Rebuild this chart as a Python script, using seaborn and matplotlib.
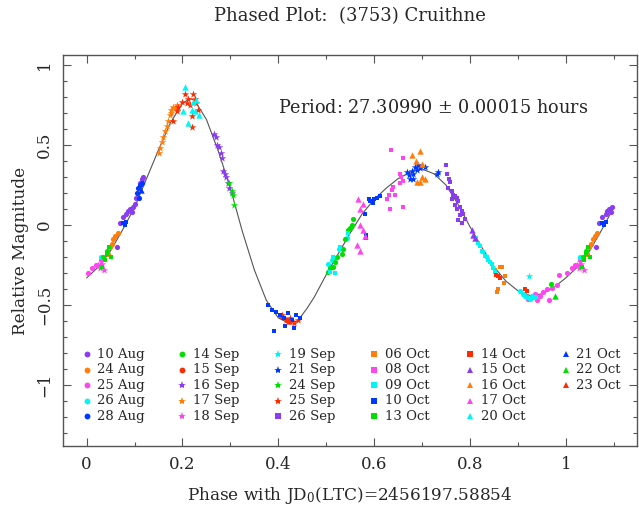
import numpy as np
import pandas as pd
import matplotlib
matplotlib.use("Agg")
import matplotlib.pyplot as plt
import seaborn as sns

# ---------------- data ----------------
sessions = ["10 Aug", "24 Aug", "25 Aug", "26 Aug", "28 Aug",
            "14 Sep", "15 Sep", "16 Sep", "17 Sep", "18 Sep",
            "19 Sep", "21 Sep", "24 Sep", "25 Sep", "26 Sep",
            "06 Oct", "08 Oct", "09 Oct", "10 Oct", "13 Oct",
            "14 Oct", "15 Oct", "16 Oct", "17 Oct", "20 Oct",
            "21 Oct", "22 Oct", "23 Oct"]

phase = {
    "10 Aug": [0.064, 0.07, 0.076, 0.083, 0.087, 0.09, 0.094, 0.097, 0.101, 0.104, 0.111, 0.115, 0.118],
    "24 Aug": [0.044, 0.048, 0.052, 0.056, 0.06, 0.065],
    "25 Aug": [0.912, 0.922, 0.929, 0.936, 0.939, 0.946, 0.953, 0.96, 0.964, 0.971, 0.981, 0.985,
               0.003, 0.012, 0.02, 0.03],
    "26 Aug": [0.504, 0.513, 0.526, 0.543, 0.905, 0.91, 0.915, 0.92, 0.925, 0.93, 0.935, 0.03],
    "28 Aug": [0.106, 0.108, 0.109, 0.111, 0.115],
    "14 Sep": [0.504, 0.508, 0.515, 0.518, 0.522, 0.532, 0.536, 0.539, 0.546, 0.55, 0.553, 0.555,
               0.97, 0.035, 0.042],
    "15 Sep": [0.405, 0.418],
    "16 Sep": [0.266, 0.27, 0.273, 0.277, 0.28, 0.282, 0.285, 0.288, 0.291, 0.294, 0.298, 0.303],
    "17 Sep": [0.15, 0.153, 0.157, 0.16, 0.163, 0.167, 0.17, 0.174, 0.177, 0.177, 0.181, 0.185, 0.188],
    "18 Sep": [0.023, 0.027, 0.031, 0.037],
    "19 Sep": [0.924],
    "21 Sep": [0.669, 0.673, 0.678, 0.682, 0.675, 0.685, 0.689, 0.692, 0.696, 0.682, 0.706, 0.731, 0.734],
    "24 Sep": [0.298, 0.303, 0.306, 0.307],
    "25 Sep": [0.198, 0.205, 0.209, 0.212, 0.216, 0.219, 0.219, 0.222, 0.226, 0.229, 0.233, 0.188,
               0.181, 0.191, 0.408, 0.416, 0.424, 0.433, 0.441],
    "26 Sep": [0.75, 0.752, 0.757, 0.758, 0.755, 0.762, 0.765, 0.769, 0.772, 0.762, 0.776, 0.769,
               0.779, 0.772, 0.783, 0.779, 0.786, 0.776, 0.79, 0.783],
    "06 Oct": [0.852, 0.863, 0.866, 0.873, 0.87, 0.859, 0.857],
    "08 Oct": [0.635, 0.661, 0.654, 0.657, 0.653, 0.66, 0.64, 0.637, 0.63, 0.644, 0.633, 0.66, 0.626],
    "09 Oct": [0.813, 0.816, 0.82, 0.825, 0.828, 0.832, 0.835, 0.838, 0.842, 0.846, 0.849, 0.852,
               0.515, 0.529, 0.546, 0.508, 0.518],
    "10 Oct": [0.379, 0.387, 0.395, 0.403, 0.412, 0.42, 0.428, 0.437, 0.445, 0.391, 0.414, 0.433,
               0.59, 0.592, 0.599, 0.607, 0.612, 0.598, 0.584, 0.583, 0.581,
               0.076, 0.08, 0.083],
    "13 Oct": [0.033, 0.038, 0.043, 0.047, 0.05],
    "14 Oct": [0.854, 0.859, 0.862, 0.915, 0.92],
    "15 Oct": [0.804, 0.807, 0.81],
    "16 Oct": [0.696, 0.678, 0.687, 0.699, 0.706, 0.689, 0.696, 0.699],
    "17 Oct": [0.567, 0.571, 0.577, 0.564, 0.571, 0.577, 0.581, 0.571],
    "20 Oct": [0.205, 0.202, 0.212, 0.219, 0.222, 0.229, 0.235, 0.226],
    "21 Oct": [0.113],
    "22 Oct": [0.978],
    "23 Oct": [0.422],
}
mag = {
    "10 Aug": [-0.14, 0.01, 0.05, 0.07, 0.09, 0.1, 0.08, 0.11, 0.13, 0.17, 0.26, 0.29, 0.3],
    "24 Aug": [-0.18, -0.14, -0.12, -0.09, -0.07, -0.05],
    "25 Aug": [-0.43, -0.46, -0.45, -0.43, -0.47, -0.44, -0.42, -0.4, -0.47, -0.39, -0.375, -0.31,
               -0.3, -0.27, -0.25, -0.22],
    "26 Aug": [-0.24, -0.22, -0.15, -0.08, -0.41, -0.43, -0.44, -0.45, -0.46, -0.44, -0.45, -0.2],
    "28 Aug": [0.2, 0.23, 0.17, 0.25, 0.26],
    "14 Sep": [-0.29, -0.27, -0.26, -0.23, -0.2, -0.18, -0.15, -0.09, -0.03, -0.02, 0.0, 0.04,
               -0.37, -0.2, -0.16],
    "15 Sep": [-0.57, -0.59],
    "16 Sep": [0.57, 0.55, 0.5, 0.49, 0.45, 0.42, 0.34, 0.32, 0.3, 0.26, 0.23, 0.2],
    "17 Sep": [0.45, 0.48, 0.52, 0.55, 0.59, 0.62, 0.65, 0.69, 0.72, 0.7, 0.74, 0.73, 0.75],
    "18 Sep": [-0.25, -0.27, -0.24, -0.28],
    "19 Sep": [-0.32],
    "21 Sep": [0.33, 0.31, 0.34, 0.32, 0.285, 0.365, 0.345, 0.375, 0.355, 0.29, 0.36, 0.32, 0.33],
    "24 Sep": [0.26, 0.21, 0.19, 0.125],
    "25 Sep": [0.77, 0.82, 0.76, 0.79, 0.75, 0.68, 0.61, 0.82, 0.79, 0.76, 0.72, 0.71,
               0.65, 0.74, -0.56, -0.59, -0.58, -0.61, -0.59],
    "26 Sep": [0.375, 0.32, 0.29, 0.27, 0.23, 0.21, 0.19, 0.18, 0.17, 0.16, 0.15, 0.125,
               0.115, 0.1, 0.085, 0.06, 0.07, 0.03, 0.04, 0.01],
    "06 Oct": [-0.28, -0.26, -0.26, -0.32, -0.36, -0.4, -0.42],
    "08 Oct": [0.47, 0.42, 0.32, 0.3, 0.26, 0.275, 0.24, 0.22, 0.19, 0.19, 0.1, 0.11, 0.16],
    "09 Oct": [-0.08, -0.11, -0.13, -0.16, -0.17, -0.19, -0.2, -0.22, -0.23, -0.24, -0.27, -0.29,
               -0.2, -0.135, -0.05, -0.29, -0.3],
    "10 Oct": [-0.5, -0.53, -0.54, -0.56, -0.58, -0.55, -0.59, -0.56, -0.58, -0.66, -0.63, -0.64,
               0.16, 0.15, 0.16, 0.167, 0.18, 0.135, -0.06, -0.08, 0.07,
               0.01, 0.0, 0.02],
    "13 Oct": [-0.26, -0.22, -0.18, -0.14, -0.2],
    "14 Oct": [-0.31, -0.32, -0.33, -0.4, -0.41],
    "15 Oct": [-0.03, -0.06, -0.08],
    "16 Oct": [0.46, 0.44, 0.4, 0.38, 0.29, 0.27, 0.27, 0.3],
    "17 Oct": [0.16, 0.1, 0.13, -0.125, -0.16, -0.03, -0.07, 0.0],
    "20 Oct": [0.86, 0.71, 0.64, 0.72, 0.77, 0.78, 0.69, 0.71],
    "21 Oct": [0.22],
    "22 Oct": [-0.44],
    "23 Oct": [-0.6],
}

# Fourier fit curve
curve_phase = [0.0, 0.025, 0.05, 0.075, 0.1, 0.125, 0.15, 0.175, 0.2, 0.215, 0.225, 0.25,
               0.275, 0.3, 0.325, 0.35, 0.375, 0.4, 0.42, 0.44, 0.46, 0.475, 0.5, 0.525,
               0.55, 0.575, 0.6, 0.625, 0.65, 0.675, 0.7, 0.725, 0.75, 0.775, 0.8, 0.825,
               0.85, 0.875, 0.9, 0.925, 0.95, 0.975, 1.0, 1.025, 1.05, 1.075, 1.1]
curve_mag = [-0.33, -0.26, -0.16, -0.03, 0.11, 0.29, 0.47, 0.64, 0.76, 0.79, 0.78, 0.66,
             0.46, 0.23, -0.04, -0.28, -0.47, -0.58, -0.61, -0.60, -0.52, -0.45, -0.31, -0.18,
             -0.05, 0.07, 0.16, 0.23, 0.29, 0.33, 0.35, 0.32, 0.25, 0.13, -0.01, -0.14,
             -0.26, -0.35, -0.41, -0.44, -0.43, -0.39, -0.33, -0.26, -0.16, -0.03, 0.11]

title = "Phased Plot:  (3753) Cruithne"
period_text = "Period: 27.30990 $\\pm$ 0.00015 hours"
xlabel = "Phase with JD$_0$(LTC)=2456197.58854"
ylabel = "Relative Magnitude"
xtick_vals = [0, 0.2, 0.4, 0.6, 0.8, 1.0]
xtick_labels = ["0", "0.2", "0.4", "0.6", "0.8", "1"]
ytick_vals = [-1, -0.5, 0, 0.5, 1]
ytick_labels = ["\u22121", "\u22120.5", "0", "0.5", "1"]

# ---------------- styling ----------------
palette = ["#8a3cf0", "#ff7d0a", "#ff45f0", "#00f5f5", "#0038ff", "#00e000", "#ff2a00"]
markers = ["o", "*", "s", "^"]
sizes = {"o": 14, "*": 32, "s": 11, "^": 21}

sns.set_style("ticks")
plt.rcParams["font.family"] = ["DejaVu Serif"]
plt.rcParams["mathtext.fontset"] = "dejavuserif"

fig = plt.figure(figsize=(6.39, 5.08), dpi=100)
ax = fig.add_axes([62.7 / 639, 1 - 446 / 508, (636.7 - 62.7) / 639, (446 - 55) / 508])

rows = []
for i, s in enumerate(sessions):
    for p, m in zip(phase[s], mag[s]):
        rows.append((s, i, p, m))
        if p <= 0.1:
            rows.append((s, i, p + 1.0, m))
df = pd.DataFrame(rows, columns=["session", "idx", "phase", "mag"])

sns.lineplot(x=curve_phase, y=curve_mag, ax=ax, color="#555555", lw=0.8,
             sort=False, estimator=None, zorder=1)

for i, s in enumerate(sessions):
    mk = markers[i // 7]
    sub = df[df["session"] == s]
    sns.scatterplot(data=sub, x="phase", y="mag", ax=ax, color=palette[i % 7],
                    marker=mk, s=sizes[mk], linewidth=0, zorder=2, legend=False)

# legend laid out as in the reference: 6 columns x 5 rows
for i, s in enumerate(sessions):
    col, row = divmod(i, 5)
    mk = markers[i // 7]
    xm = col * 0.2
    ym = -0.806 - 0.097 * row
    ax.plot([xm], [ym], marker=mk, color=palette[i % 7], ms=4.2 if mk != "*" else 6,
            mew=0, ls="none")
    ax.text(xm + 0.022, ym, s, fontsize=9.5, va="center", ha="left")

ax.text(0.40, 0.73, period_text, fontsize=12.7, va="center", ha="left")

ax.set_xlim(-0.05, 1.148)
ax.set_ylim(-1.38, 1.0625)
ax.set_xticks(xtick_vals)
ax.set_xticklabels(xtick_labels)
ax.set_xticks(np.arange(0.1, 1.15, 0.2), minor=True)
ax.set_yticks(ytick_vals)
ax.set_yticklabels(ytick_labels, rotation=90, va="center")
ax.set_yticks([v / 10 for v in range(-13, 11) if v % 5 != 0], minor=True)

ax.tick_params(which="both", direction="in", top=True, right=True,
               labelsize=12, color="#555555", width=0.8)
ax.tick_params(axis="x", which="major", pad=7)
ax.tick_params(axis="y", which="major", pad=7)
ax.tick_params(which="major", length=6)
ax.tick_params(which="minor", length=3)
for sp in ax.spines.values():
    sp.set_color("#555555")
    sp.set_linewidth(1.0)

ax.set_xlabel(xlabel, fontsize=12.2, labelpad=9)
ax.set_ylabel(ylabel, fontsize=12.2, labelpad=5)
fig.text(349.7 / 639, 1 - 16 / 508, title, fontsize=13, ha="center", va="center")

fig.savefig("out.png", dpi=100)
